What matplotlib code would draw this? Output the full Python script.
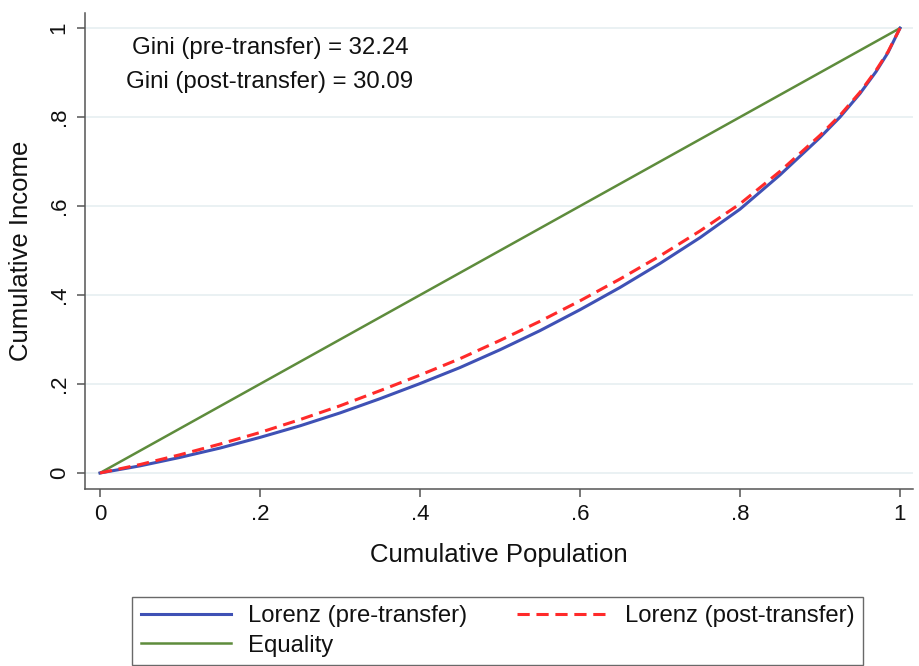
import matplotlib
matplotlib.use("Agg")
import matplotlib.pyplot as plt

plt.rcParams['font.family'] = ['Liberation Sans', 'DejaVu Sans']

# Cumulative population share
pop = [0, .05, .10, .15, .20, .25, .30, .35, .40, .45, .50, .55, .60, .65,
       .70, .75, .80, .85, .90, .925, .95, .97, .985, 1.0]
# Lorenz curve before transfers
lorenz_pre = [0, .016, .035, .056, .080, .106, .135, .167, .201, .237, .277,
              .320, .367, .417, .471, .529, .593, .670, .754, .800, .853,
              .902, .945, 1.0]
# Lorenz curve after transfers
lorenz_post = [0, .019, .041, .065, .091, .120, .151, .185, .220, .257, .298,
               .341, .387, .436, .488, .544, .605, .678, .759, .804, .856,
               .905, .947, 1.0]
equality_x = [0, 1]
equality_y = [0, 1]
gini_pre = 32.24
gini_post = 30.09

xticks = [0, .2, .4, .6, .8, 1]
xticklabels = ['0', '.2', '.4', '.6', '.8', '1']
yticks = [0, .2, .4, .6, .8, 1]
yticklabels = ['0', '.2', '.4', '.6', '.8', '1']

fig = plt.figure(figsize=(9.19, 6.66), dpi=100)
ax = fig.add_axes([85 / 919, 177 / 666, (913 - 85) / 919, (489 - 13) / 666])

for y in yticks:
    ax.axhline(y, color='#e6eff1', lw=1.2, zorder=0)

l1, = ax.plot(pop, lorenz_pre, color='#3f51b5', lw=2.2, label='Lorenz (pre-transfer)', zorder=3)
l2, = ax.plot(pop, lorenz_post, color='#ff2a2a', lw=2.2, ls=(0, (4, 2.2)),
              label='Lorenz (post-transfer)', zorder=4)
l3, = ax.plot(equality_x, equality_y, color='#5e8c3c', lw=1.8, label='Equality', zorder=2)

ax.set_xlim(-0.01875, 1.01625)
ax.set_ylim(-0.036, 1.034)
ax.set_xticks(xticks)
ax.set_xticklabels(xticklabels)
ax.set_yticks(yticks)
ax.set_yticklabels(yticklabels, rotation=90, va='center')

for s in ['top', 'right']:
    ax.spines[s].set_visible(False)
for s in ['left', 'bottom']:
    ax.spines[s].set_color('#555555')
    ax.spines[s].set_linewidth(1.1)
ax.tick_params(axis='both', direction='out', length=6, width=1.1, color='#555555',
               labelsize=16, labelcolor='#111111', pad=5)

ax.set_xlabel('Cumulative Population', fontsize=18.5, color='#111111', labelpad=13)
ax.set_ylabel('Cumulative Income', fontsize=18.5, color='#111111', labelpad=11)

ax.text(0.2125, 0.955, f'Gini (pre-transfer) = {gini_pre:.2f}', ha='center', va='center',
        fontsize=17.3, color='#111111')
ax.text(0.2125, 0.879, f'Gini (post-transfer) = {gini_post:.2f}', ha='center', va='center',
        fontsize=17.3, color='#111111')

leg = fig.legend(handles=[l1, l3, l2], labels=[l1.get_label(), l3.get_label(), l2.get_label()],
                 ncol=2, loc='upper center', bbox_to_anchor=(497.5 / 919, 1 - 597 / 666),
                 fontsize=17.2, frameon=True, fancybox=False, edgecolor='#444444',
                 handlelength=3.8, columnspacing=2.1, handletextpad=0.7, labelspacing=0.3,
                 borderpad=0.35, borderaxespad=0)
leg.get_frame().set_linewidth(1.0)
for t in leg.get_texts():
    t.set_color('#111111')

fig.savefig('out.png', dpi=100)
